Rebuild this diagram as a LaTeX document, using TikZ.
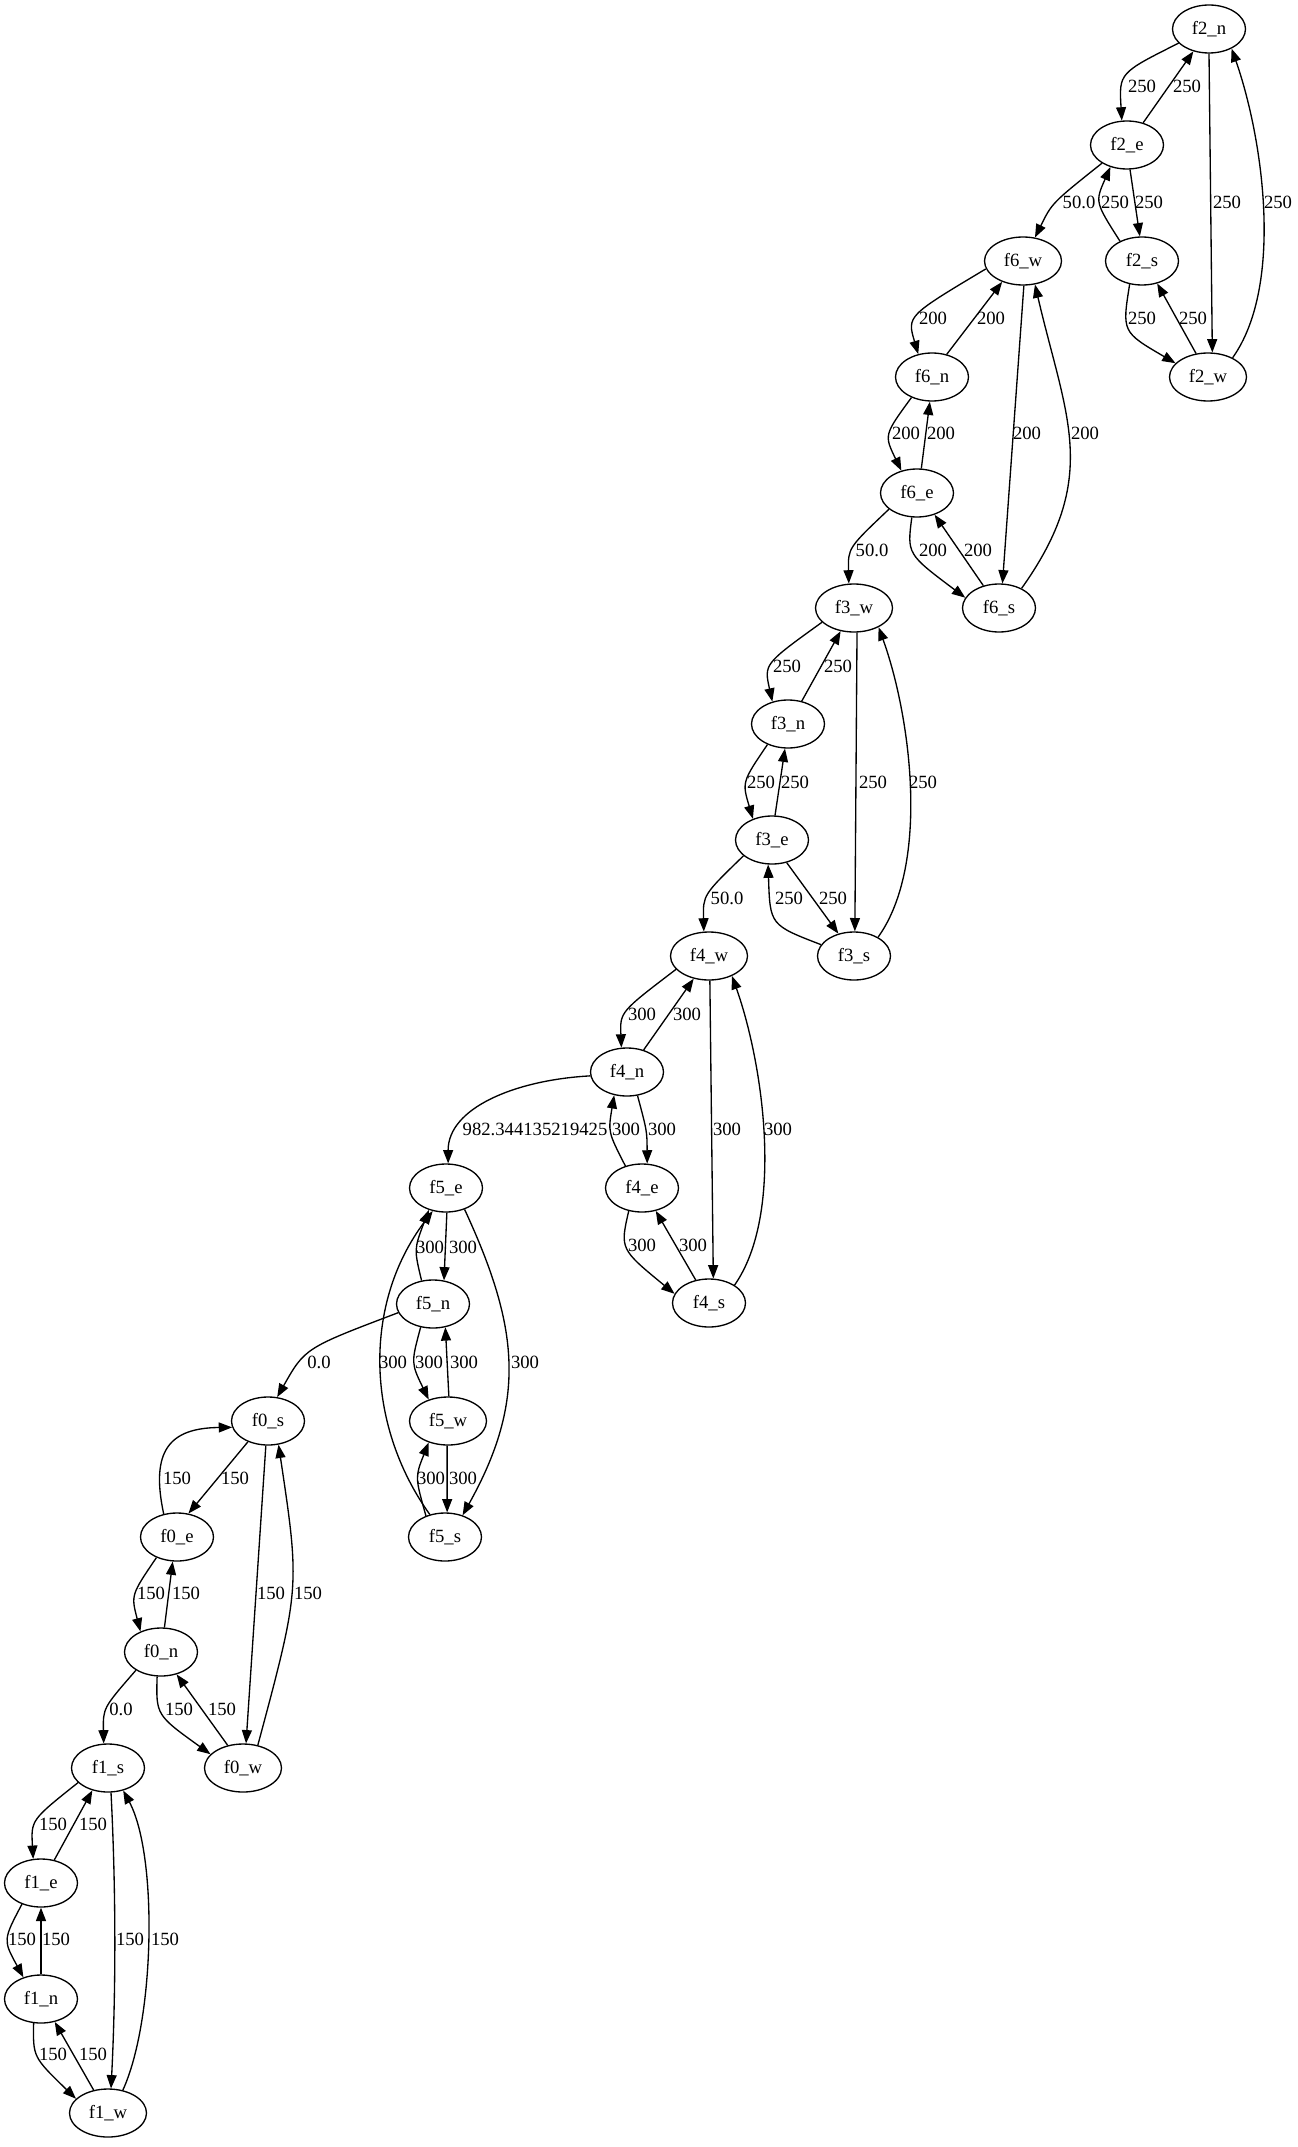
\documentclass[tikz,border=0pt]{standalone}
\usepackage{fontspec}
\setmainfont{Liberation Serif}
\usetikzlibrary{shapes.geometric,arrows.meta}
\begin{document}
\begin{tikzpicture}[x=0.75pt,y=-0.75pt,
  st/.style={ellipse,draw,line width=1pt,minimum width=54.75pt,minimum height=36pt,inner sep=0pt,font=\fontsize{14pt}{16pt}\selectfont},
  wst/.style={st,minimum width=57.75pt},
  ed/.style={line width=1pt,-{Triangle[length=10pt,width=7.5pt]}},
  lab/.style={font=\fontsize{14pt}{16pt}\selectfont,inner sep=0pt}]
\useasboundingbox (0,0) rectangle (1297,2147);
% nodes
\node[st]  (f2n) at (1209,29)   {f2\_n};
\node[st]  (f2e) at (1127,145)  {f2\_e};
\node[wst] (f6w) at (1023,261)  {f6\_w};
\node[st]  (f2s) at (1142,261)  {f2\_s};
\node[wst] (f2w) at (1208,377)  {f2\_w};
\node[st]  (f6n) at (932,377)   {f6\_n};
\node[st]  (f6e) at (917,493)   {f6\_e};
\node[wst] (f3w) at (854,608)   {f3\_w};
\node[st]  (f6s) at (999,608)   {f6\_s};
\node[st]  (f3n) at (788,724)   {f3\_n};
\node[st]  (f3e) at (772,840)   {f3\_e};
\node[st]  (f3s) at (854,956)   {f3\_s};
\node[wst] (f4w) at (709,956)   {f4\_w};
\node[st]  (f4n) at (627,1072)  {f4\_n};
\node[st]  (f5e) at (446,1188)  {f5\_e};
\node[st]  (f4e) at (642,1188)  {f4\_e};
\node[st]  (f4s) at (709,1303)  {f4\_s};
\node[st]  (f5n) at (433,1304)  {f5\_n};
\node[st]  (f0s) at (268,1421)  {f0\_s};
\node[wst] (f5w) at (448,1421)  {f5\_w};
\node[st]  (f0e) at (177,1537)  {f0\_e};
\node[st]  (f5s) at (445,1537)  {f5\_s};
\node[st]  (f0n) at (161,1652)  {f0\_n};
\node[st]  (f1s) at (108,1768)  {f1\_s};
\node[wst] (f0w) at (243,1768)  {f0\_w};
\node[st]  (f1e) at (41,1883)   {f1\_e};
\node[st]  (f1n) at (41,1999)   {f1\_n};
\node[wst] (f1w) at (108,2113)  {f1\_w};
% group f2
\draw[ed] (f2n.205) .. controls (1119,73) .. (f2e.102);
\draw[ed] (f2e.54) -- (f2n.235);
\draw[ed] (f2e.277) -- (f2s.95);
\draw[ed] (f2s.138) .. controls (1095,202) .. (f2e.233);
\draw[ed] (f2n.270) -- (f2w.80);
\draw[ed] (f2w.38) .. controls (1285,284) and (1262,135) .. (f2n.319);
\draw[ed] (f2s.242) .. controls (1122,332) .. (f2w.157);
\draw[ed] (f2w.117.5) -- (f2s.304);
\draw[ed] (f2e.216) .. controls (1052,203) .. (f6w.63);
% group f6
\draw[ed] (f6w.192) .. controls (907,316) .. (f6n.121);
\draw[ed] (f6n.57) -- (f6w.225);
\draw[ed] (f6n.225) .. controls (884,435) .. (f6e.125.5);
\draw[ed] (f6e.80.5) -- (f6n.265);
\draw[ed] (f6w.272) -- (f6s.82.5);
\draw[ed] (f6s.41) .. controls (1101,477) and (1066,418) .. (f6w.297);
\draw[ed] (f6e.258) .. controls (907,554) .. (f6s.163);
\draw[ed] (f6s.125.5) -- (f6e.309);
\draw[ed] (f6e.210) .. controls (848,548) .. (f3w.102);
% group f3
\draw[ed] (f3w.204) .. controls (764,664) .. (f3n.125.5);
\draw[ed] (f3n.59) -- (f3w.240);
\draw[ed] (f3n.225) .. controls (742,782) .. (f3e.132);
\draw[ed] (f3e.83) -- (f3n.263);
\draw[ed] (f3w.277) -- (f3s.88);
\draw[ed] (f3s.38) .. controls (931,863) and (910,714) .. (f3w.322);
\draw[ed] (f3e.303) -- (f3s.125.5);
\draw[ed] (f3s.161) .. controls (770,925) .. (f3e.261);
\draw[ed] (f3e.209) .. controls (703,895) .. (f4w.102);
% group f4
\draw[ed] (f4w.202) .. controls (620,1012) .. (f4n.103);
\draw[ed] (f4n.53) -- (f4w.236);
\draw[ed] (f4e.127) .. controls (608,1132) .. (f4n.241);
\draw[ed] (f4n.294) .. controls (647,1131) .. (f4e.78);
\draw[ed] (f4w.272) -- (f4s.80);
\draw[ed] (f4s.35) .. controls (785,1213) and (763,1063) .. (f4w.319);
\draw[ed] (f4e.240) .. controls (620,1249) .. (f4s.165);
\draw[ed] (f4s.120.6) -- (f4e.301);
\draw[ed] (f4n.186) .. controls (515,1080) and (448,1108) .. (f5e.85);
% group f5
\draw[ed] (f5e.272) -- (f5n.65);
\draw[ed] (f5n.116) .. controls (414,1249) .. (f5e.232);
\draw[ed] (f5e.311) .. controls (519,1327) and (527,1400) .. (f5s.51);
\draw[ed] (f5s.124) .. controls (365,1424) and (363,1303) .. (f5e.240);
\draw[ed] (f5n.242) .. controls (411,1363) .. (f5w.132);
\draw[ed] (f5w.88) -- (f5n.298);
\draw[ed] (f5s.132) .. controls (415,1477) .. (f5w.228);
\draw[ed] (f5w.268) -- (f5s.85);
\draw[ed] (f5n.194) .. controls (305,1348) .. (f0s.69);
% group f0
\draw[ed] (f0e.120) .. controls (150,1450) and (170,1428) .. (f0s.190);
\draw[ed] (f0s.226) -- (f0e.64);
\draw[ed] (f0e.225) .. controls (131,1595) .. (f0n.135);
\draw[ed] (f0n.82) -- (f0e.260);
\draw[ed] (f0s.265) -- (f0w.83);
\draw[ed] (f0w.57.5) .. controls (300,1588) .. (f0s.294);
\draw[ed] (f0n.261) .. controls (156,1715) .. (f0w.157);
\draw[ed] (f0w.124) -- (f0n.305);
\draw[ed] (f0n.216) .. controls (103,1708) .. (f1s.100);
% group f1
\draw[ed] (f1s.206) .. controls (31,1820) .. (f1e.108);
\draw[ed] (f1e.60.5) -- (f1s.235.7);
\draw[ed] (f1e.228) .. controls (3,1940) .. (f1n.129);
\draw[ed] (f1n.90) -- (f1e.270);
\draw[ed] (f1s.277) .. controls (116,1890) and (116,1990) .. (f1w.83);
\draw[ed] (f1w.57.5) .. controls (155,2020) and (158,1855) .. (f1s.304);
\draw[ed] (f1n.253) .. controls (33,2057) .. (f1w.156);
\draw[ed] (f1w.122.5) -- (f1n.301);
% labels
\node[lab] (l01) at (1142,86) {250};
\node[lab] (l02) at (1187,86) {250};
\node[lab] (l03) at (1079,202) {50.0};
\node[lab] (l04) at (1115,202) {250};
\node[lab] (l05) at (1149,202) {250};
\node[lab] (l06) at (1227,202) {250};
\node[lab] (l07) at (1278,202) {250};
\node[lab] (l08) at (1142,318) {250};
\node[lab] (l09) at (1193,318) {250};
\node[lab] (l10) at (933,318) {200};
\node[lab] (l11) at (991,318) {200};
\node[lab] (l12) at (1027,433) {200};
\node[lab] (l13) at (1085,433) {200};
\node[lab] (l14) at (906,433) {200};
\node[lab] (l15) at (941,433) {200};
\node[lab] (l16) at (872,550) {50.0};
\node[lab] (l17) at (933,550) {200};
\node[lab] (l18) at (978,550) {200};
\node[lab] (l19) at (787,666) {250};
\node[lab] (l20) at (838,666) {250};
\node[lab] (l21) at (873,782) {250};
\node[lab] (l22) at (923,782) {250};
\node[lab] (l23) at (761,782) {250};
\node[lab] (l24) at (795,782) {250};
\node[lab] (l25) at (727,898) {50.0};
\node[lab] (l26) at (833,898) {250};
\node[lab] (l27) at (789,898) {250};
\node[lab] (l28) at (642,1014) {300};
\node[lab] (l29) at (687,1014) {300};
\node[lab] (l30) at (727,1129) {300};
\node[lab] (l31) at (778,1129) {300};
\node[lab] (l32) at (535,1129) {982.344135219425};
\node[lab] (l33) at (626,1129) {300};
\node[lab] (l34) at (662,1129) {300};
\node[lab] (l35) at (642,1245) {300};
\node[lab] (l36) at (693,1245) {300};
\node[lab] (l37) at (430,1247) {300};
\node[lab] (l38) at (463,1247) {300};
\node[lab] (l39) at (393,1362) {300};
\node[lab] (l40) at (429,1362) {300};
\node[lab] (l41) at (464,1362) {300};
\node[lab] (l42) at (525,1362) {300};
\node[lab] (l43) at (431,1478) {300};
\node[lab] (l44) at (463,1478) {300};
\node[lab] (l45) at (319,1362) {0.0};
\node[lab] (l46) at (177,1478) {150};
\node[lab] (l47) at (235,1478) {150};
\node[lab] (l48) at (151,1593) {150};
\node[lab] (l49) at (186,1593) {150};
\node[lab] (l50) at (271,1593) {150};
\node[lab] (l51) at (308,1593) {150};
\node[lab] (l52) at (121,1709) {0.0};
\node[lab] (l53) at (179,1709) {150};
\node[lab] (l54) at (222,1709) {150};
\node[lab] (l55) at (53,1824) {150};
\node[lab] (l56) at (93,1824) {150};
\node[lab] (l57) at (22,1939) {150};
\node[lab] (l58) at (56,1939) {150};
\node[lab] (l59) at (130,1939) {150};
\node[lab] (l60) at (165,1939) {150};
\node[lab] (l61) at (53,2054) {150};
\node[lab] (l62) at (93,2054) {150};
\end{tikzpicture}
\end{document}
